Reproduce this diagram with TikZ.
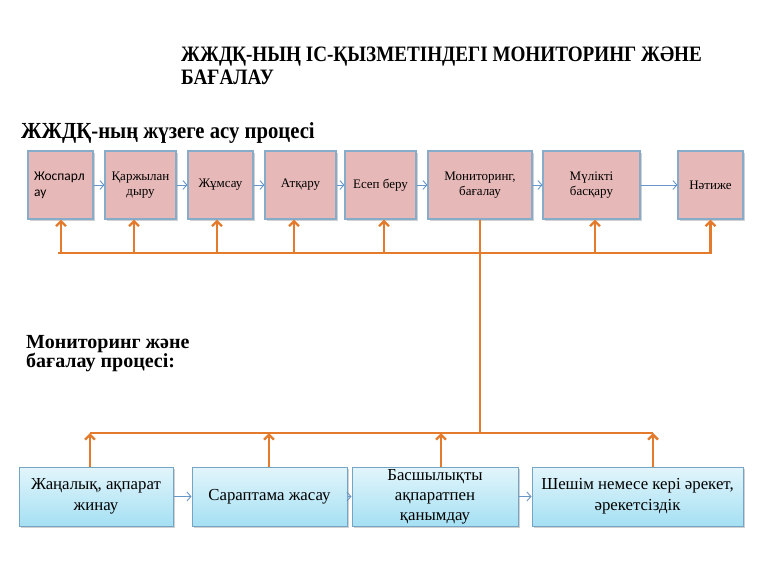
\documentclass[tikz,border=0pt]{standalone}
\usepackage{fontspec}
\setmainfont{Liberation Serif}
\newfontfamily\condserif[FakeStretch=0.87]{Liberation Serif}
\newfontfamily\condserifb[FakeStretch=0.9]{Liberation Serif}
\newfontfamily\calibrifont{Carlito}
\usetikzlibrary{arrows.meta,shadows}
\definecolor{pinkfill}{RGB}{230,184,183}
\definecolor{topborder}{RGB}{135,172,202}
\definecolor{botborder}{RGB}{118,164,196}
\definecolor{cyantop}{RGB}{226,245,251}
\definecolor{cyanbot}{RGB}{165,224,243}
\definecolor{bluearrow}{RGB}{105,150,200}
\definecolor{orangeline}{RGB}{228,122,44}
\tikzset{
  boxshadow/.style={drop shadow={shadow xshift=1.5pt,shadow yshift=-1.5pt,opacity=0.3,fill=black!60}},
  topbox/.style={draw=topborder, line width=1.1pt, fill=pinkfill, minimum height=68pt,
    inner sep=2pt, align=center, font=\fontsize{13}{15}\selectfont, boxshadow},
  botbox/.style={draw=botborder, line width=1pt, top color=cyantop, bottom color=cyanbot,
    minimum height=59pt, inner sep=2pt, align=center, font=\fontsize{16.8}{21}\selectfont, boxshadow},
  bluearr/.style={draw=bluearrow, line width=0.9pt, -{Straight Barb[length=4pt,width=9pt]}},
  orline/.style={draw=orangeline, line width=2.3pt},
  orarrow/.style={orline, -{Straight Barb[length=5pt,width=10pt]}},
  titletext/.style={inner sep=0pt, align=left, anchor=north west}
}
\begin{document}
\begin{tikzpicture}[x=1pt,y=-1pt]
\useasboundingbox (0,0) rectangle (768,576);

% titles
\node[titletext, font=\condserif\bfseries\fontsize{22}{22.5}\selectfont] (title) at (181,47)
  {ЖЖДҚ-НЫҢ ІС-ҚЫЗМЕТІНДЕГІ МОНИТОРИНГ ЖӘНЕ\\БАҒАЛАУ};
\node[titletext, font=\condserifb\bfseries\fontsize{23}{24}\selectfont] (sub1) at (21,122)
  {ЖЖДҚ-ның жүзеге асу процесі};
\node[titletext, font=\bfseries\fontsize{20}{16}\selectfont] (sub2) at (26,335)
  {Мониторинг және\\бағалау процесі:};

% top row
\node[topbox, minimum width=65pt, align=left, font=\calibrifont\fontsize{13.5}{16}\selectfont, text width=53pt] (t1) at (60.5,185) {Жоспарл\\ау};
\node[topbox, minimum width=71pt] (t2) at (140.5,185) {Қаржылан\\дыру};
\node[topbox, minimum width=65pt] (t3) at (220.5,185) {Жұмсау};
\node[topbox, minimum width=71pt] (t4) at (300.5,185) {Атқару};
\node[topbox, minimum width=71pt] (t5) at (380.5,185) {Есеп беру};
\node[topbox, minimum width=104pt] (t6) at (480,185) {Мониторинг,\\бағалау};
\node[topbox, minimum width=97pt] (t7) at (591.5,185) {Мүлікті\\басқару};
\node[topbox, minimum width=65pt] (t8) at (710.5,185) {Нәтиже};

\foreach \a/\b in {t1/t2,t2/t3,t3/t4,t4/t5,t5/t6,t6/t7,t7/t8}
  \draw[bluearr] (\a.east) -- (\b.west);

% bottom row
\node[botbox, minimum width=154pt] (b1) at (96,496.5) {Жаңалық, ақпарат\\жинау};
\node[botbox, minimum width=155pt] (b2) at (269.5,496.5) {Сараптама жасау};
\node[botbox, minimum width=166pt, inner ysep=0pt, font=\fontsize{16.8}{20}\selectfont] (b3) at (435,496.5) {Басшылықты\\ақпаратпен\\қанымдау};
\node[botbox, minimum width=211pt] (b4) at (637.5,496.5) {Шешім немесе кері әрекет,\\әрекетсіздік};

\foreach \a/\b in {b1/b2,b2/b3,b3/b4}
  \draw[bluearr] (\a.east) -- (\b.west);

% upper orange bus
\coordinate (busL) at (58,253);
\coordinate (a1) at ([xshift=0.5pt]t1.south);
\coordinate (a2) at ([xshift=-6.5pt]t2.south);
\coordinate (a3) at ([xshift=-3.5pt]t3.south);
\coordinate (a4) at ([xshift=-6.5pt]t4.south);
\coordinate (a5) at ([xshift=3.5pt]t5.south);
\coordinate (a7) at ([xshift=3.5pt]t7.south);
\draw[orarrow] (busL) -- (t8.south |- busL) -- (t8.south);
\foreach \c in {a1,a2,a3,a4,a5,a7}
  \draw[orarrow] (\c |- busL) -- (\c);

% lower orange bus
\coordinate (lowbus) at (0,433);
\coordinate (c1) at ([xshift=-6pt]b1.north);
\coordinate (c2) at ([xshift=-0.5pt]b2.north);
\coordinate (c3) at ([xshift=6pt]b3.north);
\coordinate (c4) at ([xshift=15.5pt]b4.north);
\draw[orline] (t6.south) -- (t6.south |- lowbus);
\draw[orline] (c1 |- lowbus) -- (c4 |- lowbus);
\foreach \c in {c1,c2,c3,c4}
  \draw[orarrow] (\c) -- (\c |- lowbus);
\end{tikzpicture}
\end{document}
